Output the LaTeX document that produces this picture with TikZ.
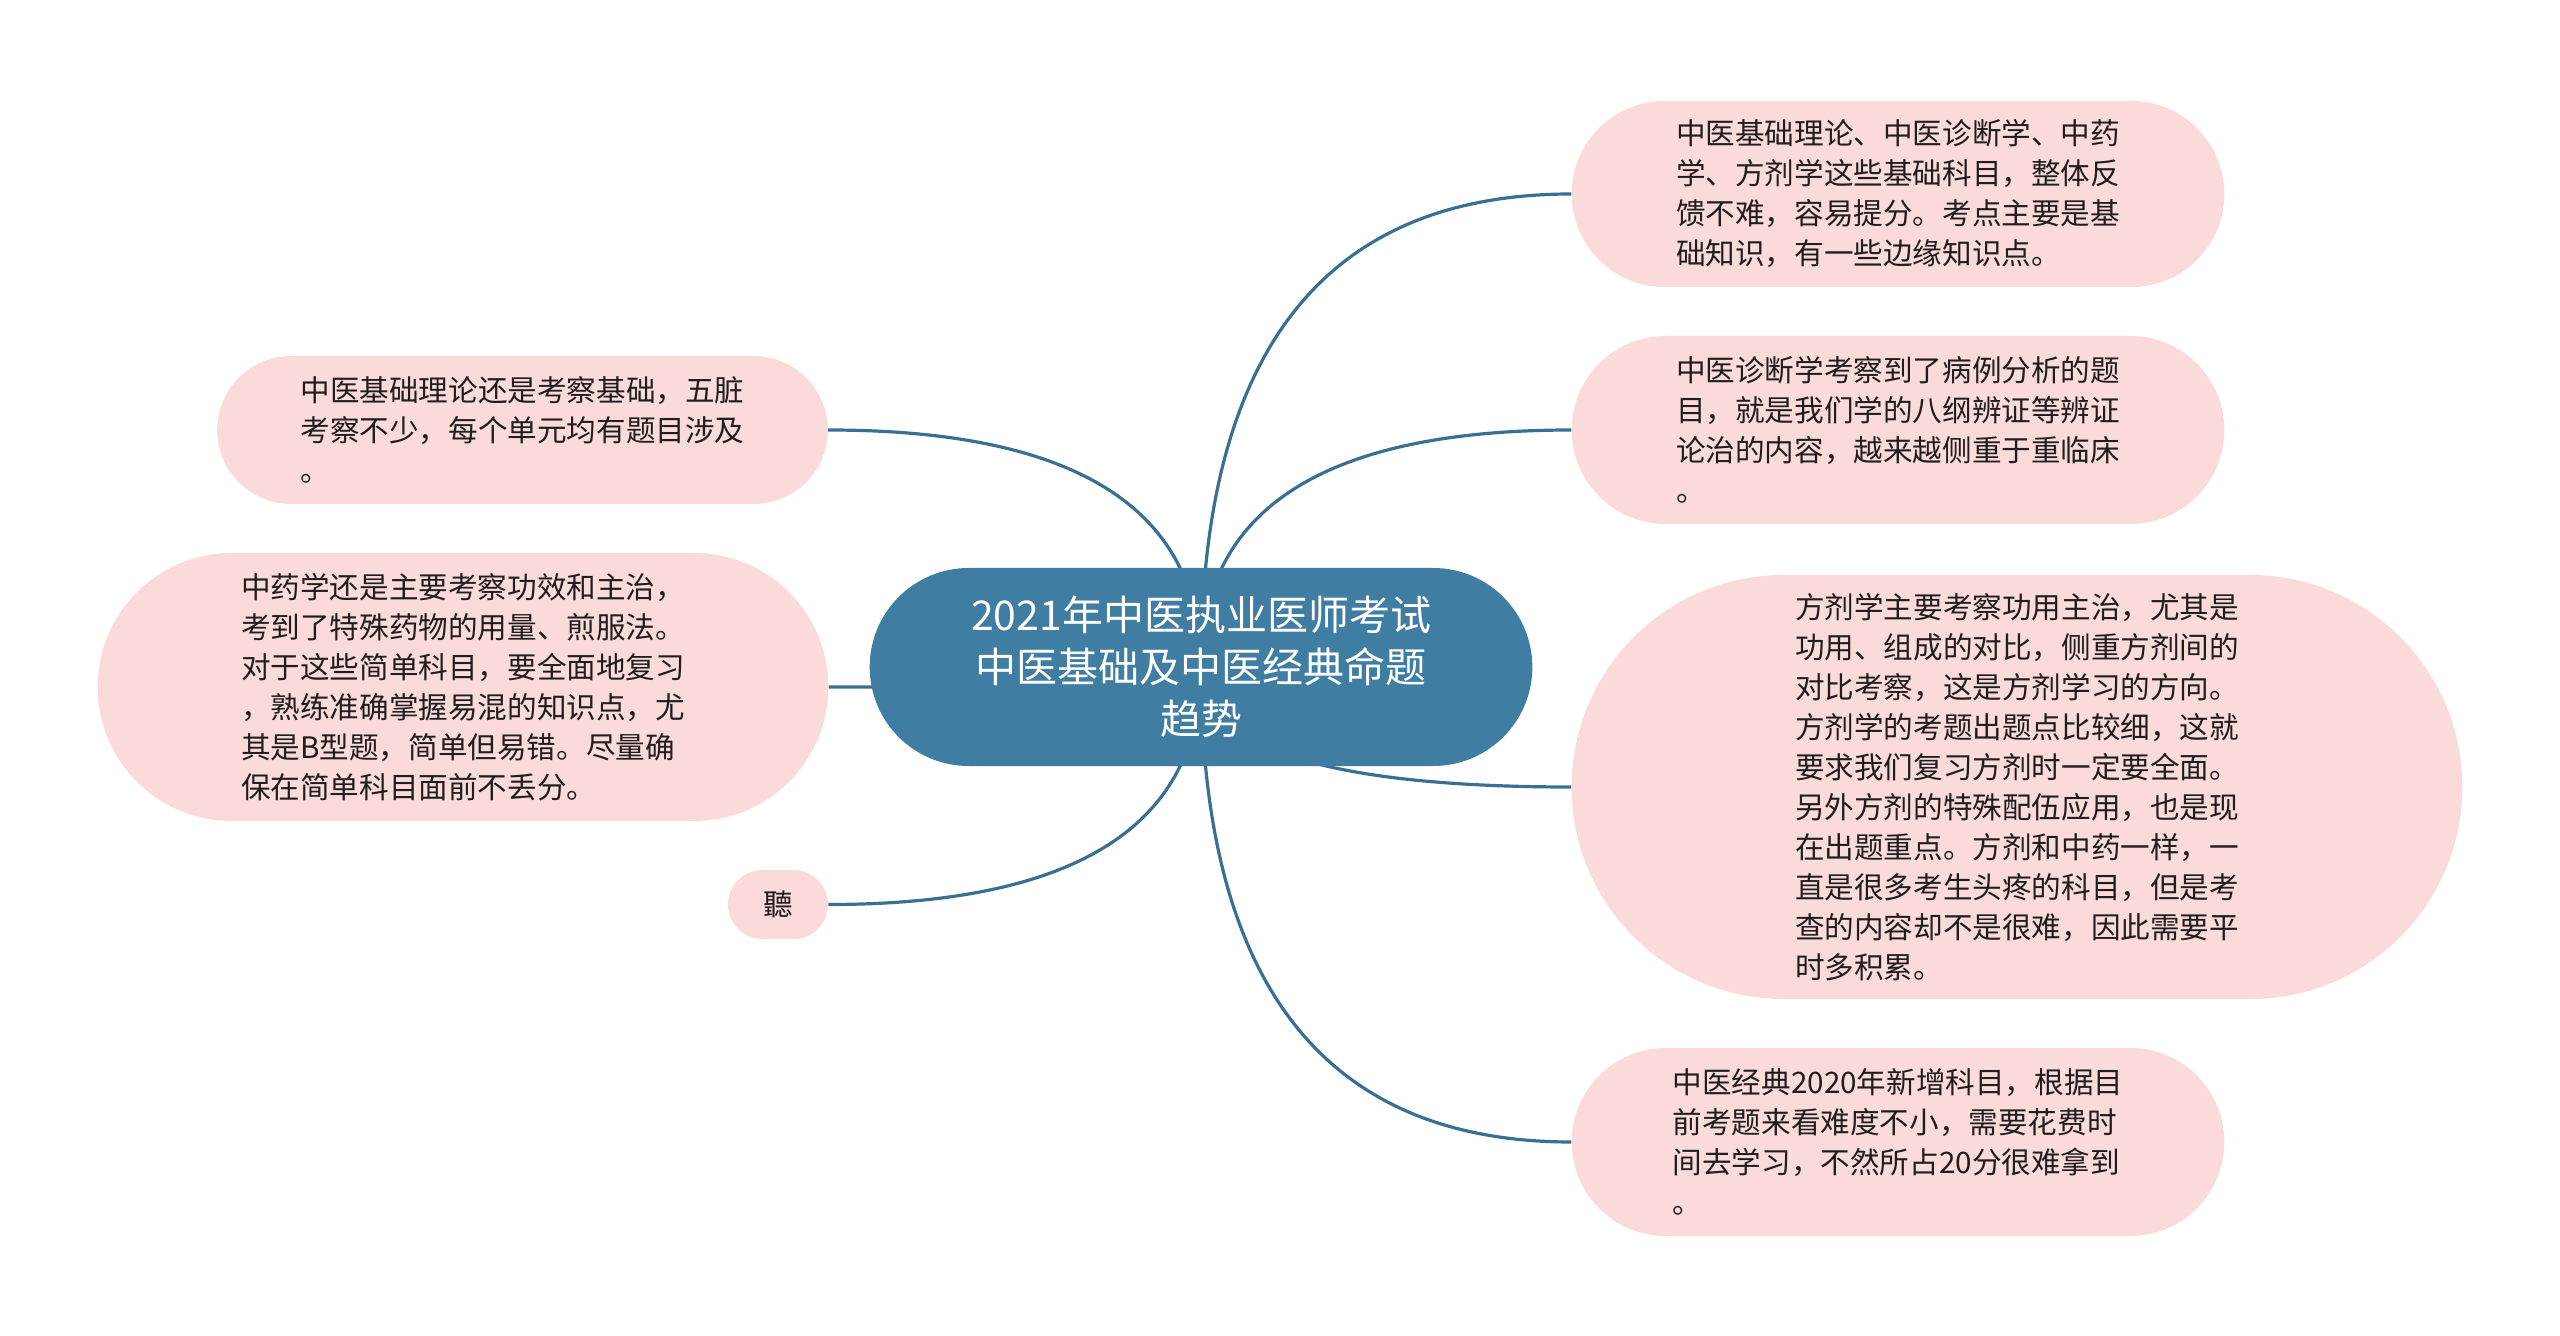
\documentclass[tikz,border=0pt]{standalone}
\usepackage{fontspec}
\newfontfamily\cjk{Noto Sans CJK SC}
\usetikzlibrary{shapes.misc,calc,backgrounds}
\definecolor{topicblue}{HTML}{3F7DA3}
\definecolor{linkblue}{HTML}{3A6F94}
\definecolor{leafpink}{HTML}{FBDADA}
\definecolor{leaftext}{HTML}{1E1E1E}
\tikzset{
  topic/.style={rounded rectangle,fill=topicblue,text=white,align=center,
    font=\cjk\fontsize{20.5}{26}\selectfont,minimum width=338pt,minimum height=99pt},
  leaf/.style={rounded rectangle,fill=leafpink,text=leaftext,align=left,
    font=\cjk\fontsize{14.8}{20}\selectfont},
  link/.style={draw=linkblue,line width=1.6pt}
}

\begin{document}
\begin{tikzpicture}[x=0.5pt,y=-0.5pt]
      \useasboundingbox (0,0) rectangle (2560,1336);
      \node[topic] (T) at (1201, 667) {2021年中医执业医师考试\\中医基础及中医经典命题\\趋势};
      \node[leaf,minimum width=333pt,minimum height=93pt] (R1) at (1898, 194)
        {中医基础理论、中医诊断学、中药\\学、方剂学这些基础科目，整体反\\馈不难，容易提分。考点主要是基\\础知识，有一些边缘知识点。};
      \node[leaf,minimum width=333pt,minimum height=94pt] (R2) at (1898, 430)
        {中医诊断学考察到了病例分析的题\\目，就是我们学的八纲辨证等辨证\\论治的内容，越来越侧重于重临床\\。};
      \node[leaf,minimum width=452pt,minimum height=212pt] (R3) at (2017, 787)
        {方剂学主要考察功用主治，尤其是\\功用、组成的对比，侧重方剂间的\\对比考察，这是方剂学习的方向。\\方剂学的考题出题点比较细，这就\\要求我们复习方剂时一定要全面。\\另外方剂的特殊配伍应用，也是现\\在出题重点。方剂和中药一样，一\\直是很多考生头疼的科目，但是考\\查的内容却不是很难，因此需要平\\时多积累。};
      \node[leaf,minimum width=333pt,minimum height=94pt] (R4) at (1898, 1142)
        {中医经典2020年新增科目，根据目\\前考题来看难度不小，需要花费时\\间去学习，不然所占20分很难拿到\\。};
      \node[leaf,minimum width=312pt,minimum height=74pt] (L1) at (522.5, 430)
        {中医基础理论还是考察基础，五脏\\考察不少，每个单元均有题目涉及\\。};
      \node[leaf,minimum width=372pt,minimum height=134pt] (L2) at (463, 687)
        {中药学还是主要考察功效和主治，\\考到了特殊药物的用量、煎服法。\\对于这些简单科目，要全面地复习\\，熟练准确掌握易混的知识点，尤\\其是B型题，简单但易错。尽量确\\保在简单科目面前不丢分。};
      \node[leaf,inner xsep=0pt,minimum width=50pt,minimum height=34.5pt] (L3) at (778, 904.5) {聽};
      \begin{pgfonlayer}{background}
        \foreach \n in {R1,R2,R3,R4}
          \draw[link] (T.center) .. controls ($(T.center)!2/3!(T.center |- \n.west)$)
            and ($(\n.west)!2/3!(T.center |- \n.west)$) .. (\n.west);
        \foreach \n in {L1,L2,L3}
          \draw[link] (T.center) .. controls ($(T.center)!2/3!(T.center |- \n.east)$)
            and ($(\n.east)!2/3!(T.center |- \n.east)$) .. (\n.east);
      \end{pgfonlayer}
    \end{tikzpicture}
\end{document}
